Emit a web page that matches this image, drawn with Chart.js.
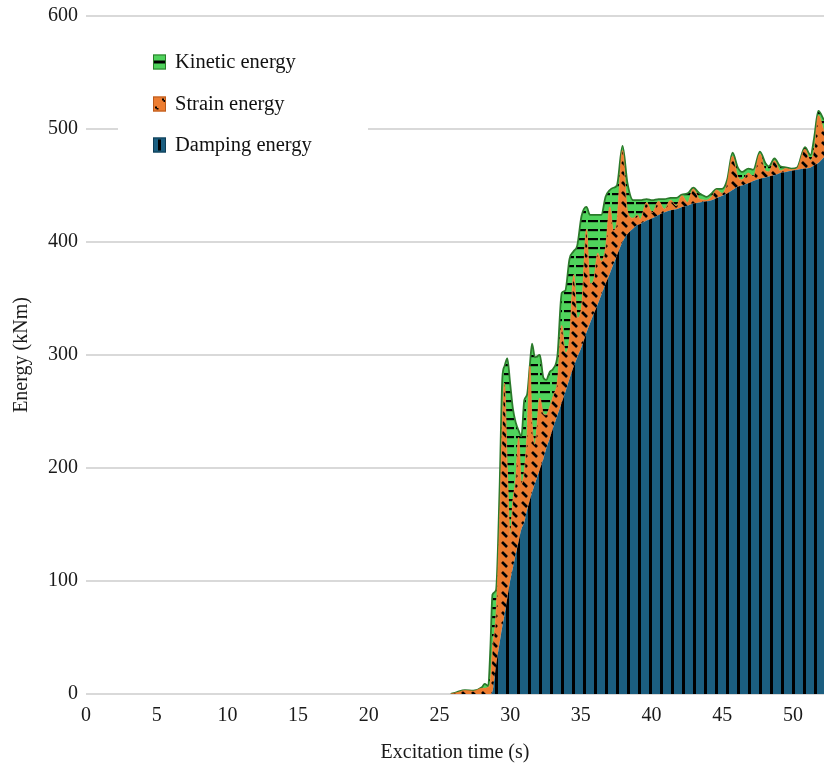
<!DOCTYPE html>
<html>
<head>
<meta charset="utf-8">
<script src="https://cdn.jsdelivr.net/npm/chart.js@4.4.0/dist/chart.umd.min.js"></script>
<style>
  html, body { margin: 0; padding: 0; background: #fff; }
  canvas { display: block; }
</style>
</head>
<body>
<canvas id="chart" width="824" height="765"></canvas>
<script>
// excitation time (s) of each sample
const timeSec = [25.8, 26.2, 26.8, 27.4, 28.0, 28.2, 28.45, 28.6, 28.75, 29.0,
  29.25, 29.45, 29.6, 29.8, 30.0, 30.2, 30.4, 30.6, 30.8, 31.0,
  31.2, 31.4, 31.55, 31.75, 32.1, 32.35, 32.55, 32.8, 33.05, 33.35,
  33.65, 33.9, 34.2, 34.5, 34.75, 35.05, 35.4, 35.65, 35.9, 36.2,
  36.45, 36.75, 37.05, 37.3, 37.55, 37.95, 38.3, 38.7, 39.0, 39.2,
  39.65, 40.05, 40.5, 40.9, 41.35, 41.75, 42.15, 42.55, 42.95, 43.4,
  43.9, 44.25, 44.6, 45.0, 45.35, 45.73, 46.1, 46.4, 46.85, 47.2,
  47.67, 48.05, 48.3, 48.7, 49.1, 49.5, 49.9, 50.3, 50.85, 51.25,
  51.5, 51.8, 52.2];

// energies in kNm (stacked: damping, strain, kinetic)
const dampingEnergy = [0, 0, 0, 0, 0, 0, 0, 0, 2, 25,
  45, 60, 70, 85, 100, 112, 124, 135, 146, 152,
  163, 172, 178, 186, 199, 208, 217, 226, 236, 247,
  258, 267, 279, 290, 298, 307, 320, 328, 336, 345,
  353, 363, 372, 380, 388, 400, 407, 412, 415, 416,
  419, 421, 424, 426, 428, 429, 431, 432, 434, 435,
  436, 437, 439, 441, 443, 446, 449, 450, 452, 454,
  456, 457, 458, 459, 461, 462, 463, 464, 465, 466,
  468, 470, 475];

const strainEnergy = [0, 1, 3, 2.5, 5, 5, 6, 10, 38, 45,
  105, 180, 205, 115, 40, 60, 66, 92, 40, 45,
  67, 118, 62, 35, 63, 40, 30, 28, 28, 30,
  68, 35, 35, 81, 35, 35, 91, 35, 30, 45,
  30, 32, 59, 30, 30, 81, 20, 9, 9, 4,
  16, 5, 12, 3, 9, 3, 10, 3, 13, 3,
  1, 3, 7, 2, 9, 30, 9, 5, 9, 4,
  22, 6, 4, 13, 2, 3, 1, 1, 17, 6,
  14, 42, 23];

const kineticEnergy = [0, 0.5, 0.5, 0.5, 1, 4, 1, 30, 48, 22,
  30, 40, 15, 97, 135, 80, 50, 6, 42, 63,
  35, 2, 70, 77, 38, 32, 31, 31, 24, 23,
  29, 55, 71, 21, 64, 81, 20, 61, 58, 34,
  41, 45, 15, 38, 32, 4, 25, 16, 13, 17,
  3, 11, 2, 9, 2, 7, 1, 8, 1, 5,
  3, 3, 1, 4, 3, 3, 8, 7, 4, 6,
  2, 7, 5, 2, 4, 1, 1, 1, 2, 5,
  10, 4, 10];

const canvas = document.getElementById('chart');
const ctx = canvas.getContext('2d');

// hatched fills like the Excel pattern fills
function makePattern(w, h, bg, draw) {
  const c = document.createElement('canvas');
  c.width = w;
  c.height = h;
  const g = c.getContext('2d');
  g.fillStyle = bg;
  g.fillRect(0, 0, w, h);
  g.fillStyle = '#000';
  g.strokeStyle = '#000';
  draw(g);
  return ctx.createPattern(c, 'repeat');
}

const GREEN = '#4fd35c';
const ORANGE = '#ed7d31';
const BLUE = '#1b5e80';

const kineticFill = makePattern(12, 9, GREEN, g => g.fillRect(0, 4, 10, 2.2));
const strainFill = makePattern(10, 10, ORANGE, g => {
  g.lineWidth = 2.6;
  g.beginPath();
  g.moveTo(2, 2);
  g.lineTo(7, 7);
  g.stroke();
});
const dampingFill = makePattern(11, 4, BLUE, g => g.fillRect(0, 0, 3, 4));

const toPoints = arr => arr.map((v, i) => ({ x: timeSec[i], y: v }));

const legendItems = [
  { text: 'Kinetic energy', color: GREEN, edge: '#2b7a2b', mark: 'h' },
  { text: 'Strain energy', color: ORANGE, edge: '#b85a1c', mark: 'd' },
  { text: 'Damping energy', color: BLUE, edge: '#0f3c55', mark: 'v' }
];

const insetLegend = {
  id: 'insetLegend',
  afterDraw(chart) {
    const c = chart.ctx;
    c.save();
    c.fillStyle = '#fff';
    c.fillRect(118, 36, 250, 132);
    legendItems.forEach((it, i) => {
      const cy = [62, 104, 145][i];
      const bx = 153, by = cy - 7.5;
      c.fillStyle = it.color;
      c.fillRect(bx, by, 13, 15);
      c.fillStyle = '#000';
      if (it.mark === 'h') c.fillRect(bx + 1, cy - 1.5, 11, 3);
      if (it.mark === 'v') c.fillRect(bx + 5, by + 2, 3, 11);
      if (it.mark === 'd') {
        c.fillRect(bx + 9, by + 2, 2, 2);
        c.fillRect(bx + 10.5, by + 3.5, 1.5, 2);
        c.fillRect(bx + 2, by + 10, 2, 2);
        c.fillRect(bx + 3.5, by + 11.5, 2, 1.5);
      }
      c.strokeStyle = it.edge;
      c.lineWidth = 1;
      c.strokeRect(bx + 0.5, by + 0.5, 12, 14);
      c.fillStyle = '#111';
      c.font = '20.5px "Liberation Serif", "Times New Roman", serif';
      c.textAlign = 'left';
      c.textBaseline = 'middle';
      c.fillText(it.text, 175, cy + 1);
    });
    c.restore();
  }
};

const serif = { family: '"Liberation Serif", "Times New Roman", serif', size: 20 };

new Chart(ctx, {
  type: 'line',
  data: {
    datasets: [
      {
        label: 'Damping energy',
        data: toPoints(dampingEnergy),
        backgroundColor: dampingFill,
        borderWidth: 0,
        fill: 'origin'
      },
      {
        label: 'Strain energy',
        data: toPoints(strainEnergy),
        backgroundColor: strainFill,
        borderColor: ORANGE,
        borderWidth: 0.8,
        fill: '-1'
      },
      {
        label: 'Kinetic energy',
        data: toPoints(kineticEnergy),
        backgroundColor: kineticFill,
        borderColor: '#2b7a2b',
        borderWidth: 1.8,
        fill: '-1'
      }
    ]
  },
  options: {
    responsive: false,
    animation: false,
    devicePixelRatio: 1,
    layout: { padding: { top: 16, right: 0, bottom: 0, left: 0 } },
    elements: {
      point: { radius: 0 },
      line: { cubicInterpolationMode: 'monotone' }
    },
    plugins: {
      legend: { display: false },
      tooltip: { enabled: false }
    },
    scales: {
      x: {
        type: 'linear',
        min: 0,
        max: 52.2,
        ticks: { stepSize: 5, includeBounds: false, padding: 10, color: '#1a1a1a', font: serif },
        grid: { display: false, drawTicks: false },
        border: { display: false },
        title: { display: true, text: 'Excitation time (s)', color: '#1a1a1a', font: serif, padding: { top: 0, bottom: 0 } },
        afterFit(s) { s.height = 71; }
      },
      y: {
        stacked: true,
        min: 0,
        max: 600,
        ticks: { stepSize: 100, padding: 8, color: '#1a1a1a', font: serif },
        grid: { color: '#d9d9d9', lineWidth: 2, drawTicks: false },
        border: { display: false },
        title: { display: true, text: 'Energy (kNm)', color: '#1a1a1a', font: serif, padding: { top: 10, bottom: 0 } },
        afterFit(s) {
          s.width = 86;
          s.paddingTop = 0;
          s.paddingBottom = 0;
        }
      }
    }
  },
  plugins: [insetLegend]
});
</script>
</body>
</html>
